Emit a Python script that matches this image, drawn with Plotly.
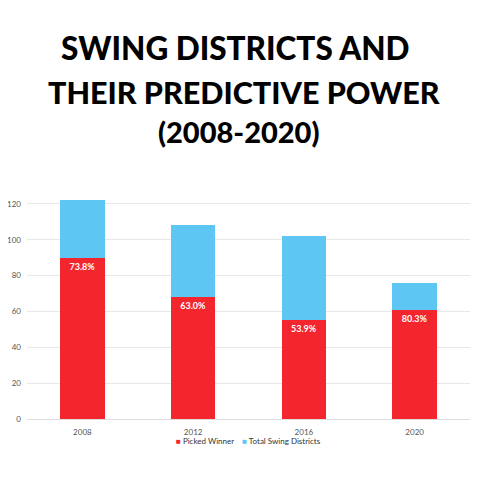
import plotly.graph_objects as go

years = ["2008", "2012", "2016", "2020"]
picked_winner = [90, 68, 55, 61]
total_swing = [122, 108, 102, 76]
y_ticks = [0, 20, 40, 60, 80, 100, 120]

remaining = [t - p for t, p in zip(total_swing, picked_winner)]
pct_labels = [f"<b>{p / t * 100:.1f}%</b>" for p, t in zip(picked_winner, total_swing)]

RED = "#F2262C"
BLUE = "#5EC6F2"

# The page has an 8px body margin, so the figure is drawn at (8, 8)
W = H = 464
OFF = 8

fig = go.Figure()
fig.add_trace(go.Bar(
    x=years, y=picked_winner, name="Picked Winner", showlegend=False,
    marker=dict(color=RED, line=dict(width=0)),
    text=pct_labels, textposition="inside", insidetextanchor="end",
    textfont=dict(color="white", size=9, family="Lato"),
    textangle=0, hoverinfo="skip",
))
fig.add_trace(go.Bar(
    x=years, y=remaining, name="Total Swing Districts", showlegend=False,
    marker=dict(color=BLUE, line=dict(width=0)),
    hoverinfo="skip",
))

top, bottom, left, right = 195 - OFF, 419 - OFF, 27 - OFF, 470 - OFF
fig.update_layout(
    barmode="stack",
    bargap=0.6,
    width=W, height=H,
    margin=dict(l=left, r=W - right, t=top, b=H - bottom, autoexpand=False),
    paper_bgcolor="white", plot_bgcolor="white",
    showlegend=False,
    xaxis=dict(tickfont=dict(size=8, color="#555555", family="Lato"), showgrid=False,
               showline=True, linecolor="#dddddd", ticks="", automargin=False,
               ticklabelstandoff=5),
    yaxis=dict(range=[0, 125], tickvals=y_ticks, tickfont=dict(size=8, color="#555555", family="Lato"),
               showgrid=True, gridcolor="#e8e8e8", gridwidth=1, zeroline=False, ticks="",
               ticklabelstandoff=5, automargin=False),
    uniformtext=dict(minsize=8, mode="show"),
)

ph = bottom - top
def ypaper(page_y):
    return 1 + (top - (page_y - OFF)) / ph

lines = [("SWING DISTRICTS AND", 31.5, 48, 0.47), ("THEIR PREDICTIVE POWER", 30.5, 92, 0.49),
         ("(2008-2020)", 29, 131, 0.478)]
for txt, sz, ypx, xp in lines:
    fig.add_annotation(text=txt, x=xp, xref="paper",
                       y=ypaper(ypx), yref="paper", yanchor="middle",
                       xanchor="center", showarrow=False,
                       font=dict(family="Lato", weight=900, size=sz, color="black"))

# legend (compact, as in the reference)
legend_text = (f"<span style='color:{RED}'>■</span> Picked Winner"
               f"    <span style='color:{BLUE}'>■</span> Total Swing Districts")
fig.add_annotation(text=legend_text, x=0.5, xref="paper", y=ypaper(441), yref="paper",
                   xanchor="center", yanchor="middle", showarrow=False,
                   font=dict(size=8, color="#333333", family="Lato"))

fig.write_html("out.html")
